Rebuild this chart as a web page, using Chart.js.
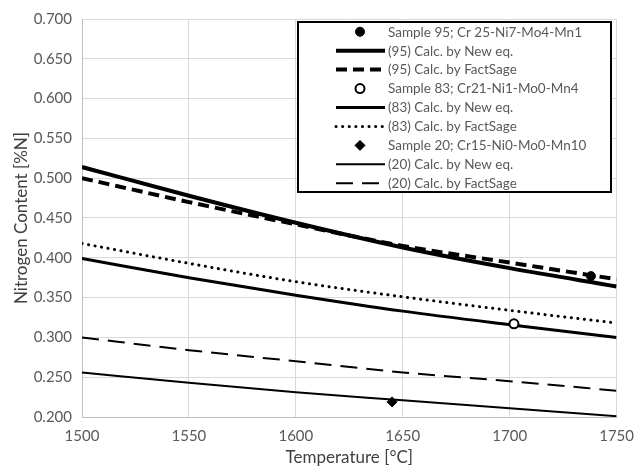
<!DOCTYPE html>
<html>
<head>
<meta charset="utf-8">
<script src="https://cdn.jsdelivr.net/npm/chart.js@4.4.1/dist/chart.umd.min.js"></script>
<style>
  html, body { margin: 0; padding: 0; background: #fff; }
  #wrap { width: 644px; height: 466px; }
</style>
</head>
<body>
<div id="wrap"><canvas id="c" width="644" height="466"></canvas></div>
<script>
// Temperatures along the x axis (°C)
const temps = [1500, 1550, 1600, 1650, 1700, 1750];

// Calculated nitrogen solubility curves [%N]
const calcNew95  = [0.514, 0.478, 0.444, 0.413, 0.387, 0.364];
const calcFS95   = [0.500, 0.470, 0.442, 0.415, 0.394, 0.373];
const calcNew83  = [0.399, 0.375, 0.353, 0.333, 0.316, 0.300];
const calcFS83   = [0.418, 0.393, 0.370, 0.351, 0.334, 0.318];
const calcNew20  = [0.256, 0.243, 0.231, 0.221, 0.211, 0.201];
const calcFS20   = [0.300, 0.284, 0.270, 0.256, 0.245, 0.233];

// Measured samples: [temperature, %N]
const sample95 = [1738, 0.377];
const sample83 = [1702, 0.317];
const sample20 = [1645, 0.219];

const yTicks = [0.2, 0.25, 0.3, 0.35, 0.4, 0.45, 0.5, 0.55, 0.6, 0.65, 0.7];

const labels = [
  'Sample 95; Cr 25-Ni7-Mo4-Mn1',
  '(95) Calc. by New eq.',
  '(95) Calc. by FactSage',
  'Sample 83; Cr21-Ni1-Mo0-Mn4',
  '(83) Calc. by New eq.',
  '(83) Calc. by FactSage',
  'Sample 20; Cr15-Ni0-Mo0-Mn10',
  '(20) Calc. by New eq.',
  '(20) Calc. by FactSage'
];

const pts = (ys) => temps.map((t, i) => ({ x: t, y: ys[i] }));
const one = (p) => [{ x: p[0], y: p[1] }];

function lineSet(label, ys, width, dash, cap) {
  return {
    label, data: pts(ys), showLine: true, borderColor: '#000', backgroundColor: '#000',
    borderWidth: width, borderDash: dash, borderCapStyle: cap || 'butt',
    pointRadius: 0, pointHoverRadius: 0, cubicInterpolationMode: 'monotone', order: 2
  };
}
function markSet(label, p, style, radius, fill, bw) {
  return {
    label, data: one(p), showLine: false, pointStyle: style, pointRadius: radius,
    pointBackgroundColor: fill, pointBorderColor: '#000', pointBorderWidth: bw, order: 1
  };
}

const datasets = [
  markSet(labels[0], sample95, 'circle', 4.5, '#000', 1),
  lineSet(labels[1], calcNew95, 4, []),
  lineSet(labels[2], calcFS95, 4, [11, 6]),
  markSet(labels[3], sample83, 'circle', 4.5, '#fff', 2),
  lineSet(labels[4], calcNew83, 3, []),
  lineSet(labels[5], calcFS83, 3, [0.1, 6.5], 'round'),
  markSet(labels[6], sample20, 'rectRot', 5, '#000', 1),
  lineSet(labels[7], calcNew20, 2, []),
  lineSet(labels[8], calcFS20, 2, [17, 9])
];

// Boxed legend drawn inside the plot area, using each dataset's own style
const boxLegend = {
  id: 'boxLegend',
  afterDatasetsDraw(chart) {
    const ctx = chart.ctx;
    const left = 298, top = 22, right = 611, bottom = 192;
    ctx.save();
    ctx.fillStyle = '#fff';
    ctx.fillRect(left, top, right - left, bottom - top);
    ctx.strokeStyle = '#000';
    ctx.lineWidth = 2;
    ctx.strokeRect(left, top, right - left, bottom - top);
    ctx.font = '13.5px Lato, "Open Sans", sans-serif';
    ctx.textBaseline = 'middle';
    ctx.textAlign = 'left';
    const step = 18.95;
    chart.data.datasets.forEach((ds, i) => {
      const cy = 31.7 + i * step;
      if (ds.showLine) {
        ctx.save();
        ctx.strokeStyle = ds.borderColor;
        ctx.lineWidth = ds.borderWidth;
        ctx.lineCap = ds.borderCapStyle;
        ctx.setLineDash(ds.borderDash);
        ctx.beginPath();
        ctx.moveTo(336, cy);
        ctx.lineTo(385, cy);
        ctx.stroke();
        ctx.restore();
      } else {
        ctx.fillStyle = ds.pointBackgroundColor;
        ctx.strokeStyle = ds.pointBorderColor;
        ctx.lineWidth = ds.pointBorderWidth;
        ctx.setLineDash([]);
        ctx.beginPath();
        if (ds.pointStyle === 'circle') {
          ctx.arc(360, cy, ds.pointRadius, 0, Math.PI * 2);
        } else {
          const r = ds.pointRadius;
          ctx.moveTo(360, cy - r); ctx.lineTo(360 + r, cy);
          ctx.lineTo(360, cy + r); ctx.lineTo(360 - r, cy); ctx.closePath();
        }
        ctx.fill();
        ctx.stroke();
      }
      ctx.fillStyle = '#595959';
      ctx.fillText(ds.label, 388, cy + 0.5);
    });
    ctx.restore();
  }
};

const fam = 'Lato, "Open Sans", sans-serif';
const tickFont = { family: fam, size: 15 };

new Chart(document.getElementById('c'), {
  type: 'scatter',
  data: { datasets },
  options: {
    responsive: false,
    animation: false,
    events: [],
    layout: { padding: { top: 16, right: 27, left: 0, bottom: 0 } },
    plugins: { legend: { display: false }, tooltip: { enabled: false } },
    scales: {
      x: {
        type: 'linear', min: 1500, max: 1750,
        ticks: { stepSize: 50, color: '#595959', font: tickFont, padding: 10, maxRotation: 0,
                 callback: (v) => String(v) },
        grid: { color: '#d9d9d9', lineWidth: 1, drawTicks: false },
        border: { color: '#bfbfbf', width: 1 },
        title: { display: true, text: 'Temperature [°C]', color: '#404040',
                 font: { family: fam, size: 17, lineHeight: 1 }, padding: { top: 0, bottom: 0 } },
        afterFit(scale) { scale.height = 49; }
      },
      y: {
        type: 'linear', min: 0.2, max: 0.7,
        afterBuildTicks(scale) { scale.ticks = yTicks.map(v => ({ value: v })); },
        ticks: { color: '#595959', font: tickFont, padding: 10,
                 callback: (v) => Number(v).toFixed(3) },
        grid: { color: '#d9d9d9', lineWidth: 1, drawTicks: false },
        border: { color: '#bfbfbf', width: 1 },
        title: { display: true, text: 'Nitrogen Content [%N]', color: '#404040',
                 font: { family: fam, size: 17 }, padding: { top: 11, bottom: 0 } },
        afterFit(scale) { scale.width = 82; }
      }
    }
  },
  plugins: [boxLegend]
});
</script>
</body>
</html>
